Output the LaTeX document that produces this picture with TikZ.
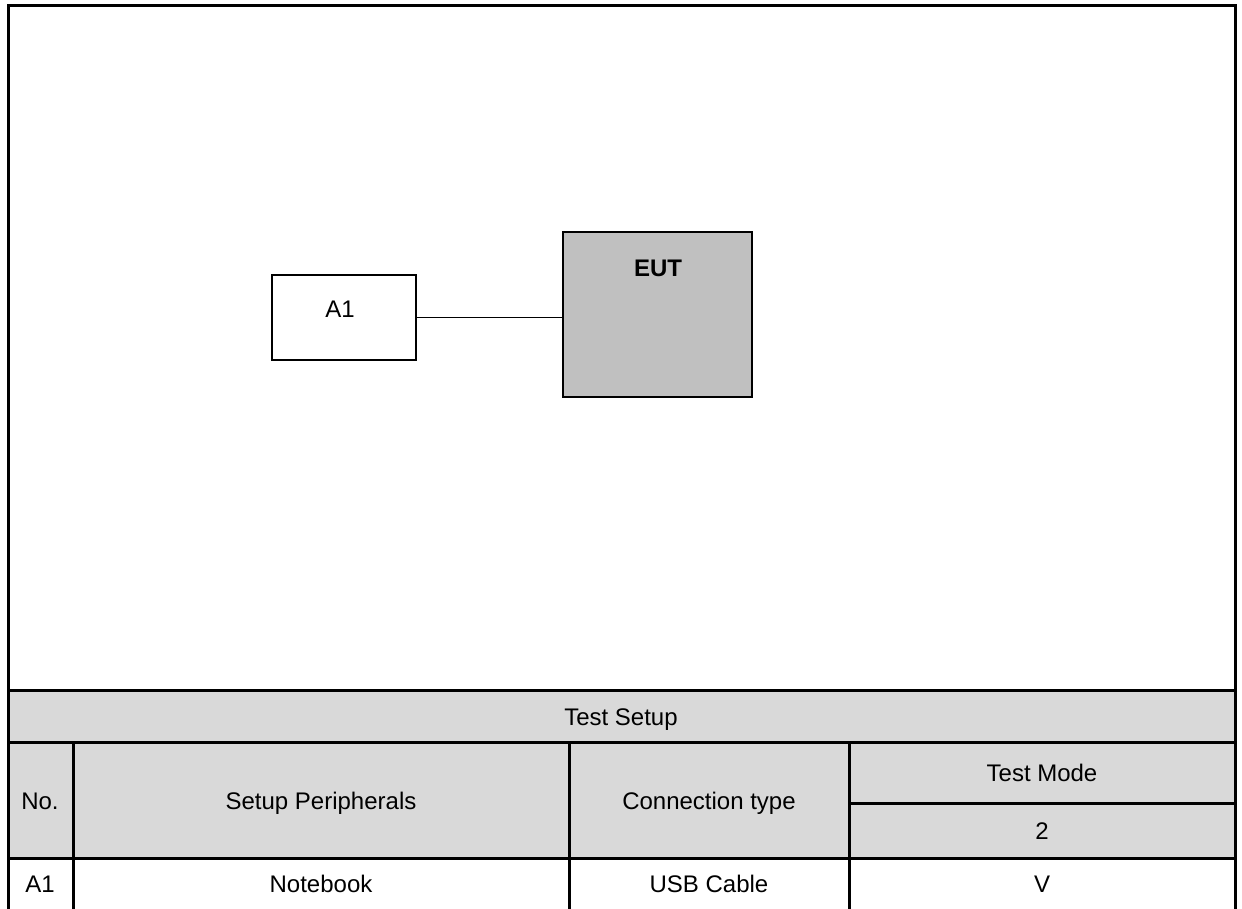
\documentclass[tikz,border=0pt]{standalone}
\usepackage{fontspec}
\setmainfont{Liberation Sans}
\begin{document}
\begin{tikzpicture}[x=1pt,y=-1pt,
  frame/.style={line width=3pt},
  grid/.style={line width=3pt},
  hdrfill/.style={fill=hdrgray},
  txt/.style={font=\fontsize{24}{28}\selectfont, inner sep=0pt, anchor=base},
  devbox/.style={draw, line width=1.2pt, fill=white, inner sep=0pt},
  eutbox/.style={draw, line width=2pt, fill=eutgray, inner sep=0pt},
  cable/.style={line width=1.5pt}]
\definecolor{hdrgray}{HTML}{D9D9D9}
\definecolor{eutgray}{HTML}{C0C0C0}
\useasboundingbox (0,0) rectangle (1242,909);
\fill[white] (0,0) rectangle (1242,909);
% diagram
\node[devbox, minimum width=144pt, minimum height=85pt] (a1box) at (344,317.5) {};
\node[eutbox, minimum width=189pt, minimum height=165pt] (eutbox) at (657.5,314.5) {};
\node[txt] (a1lbl) at (340,317) {A1};
\node[txt, font=\fontsize{24}{28}\selectfont\bfseries] (eutlbl) at (658,277) {EUT};
\draw[cable] (a1box.east) -- (a1box.east -| eutbox.west);
% table header fill
\fill[hdrgray] (8.5,690) rectangle (1235,858);
% frame
\draw[frame] (8.5,909) -- (8.5,6) -- (1235,6) -- (1235,909);
% table lines
\draw[grid] (8.5,690) -- (1235,690);
\draw[grid] (8.5,742) -- (1235,742);
\draw[grid] (849,803) -- (1235,803);
\draw[grid] (8.5,858) -- (1235,858);
\draw[grid] (73,742) -- (73,909);
\draw[grid] (569,742) -- (569,909);
\draw[grid] (849,742) -- (849,909);
% table text
\node[txt] (ts) at (621,725) {Test Setup};
\node[txt] (hno) at (40,809) {No.};
\node[txt] (hsp) at (321,809) {Setup Peripherals};
\node[txt] (hct) at (709,809) {Connection type};
\node[txt] (htm) at (1042,781) {Test Mode};
\node[txt] (htm2) at (1042,839) {2};
\node[txt] (rno) at (40,892) {A1};
\node[txt] (rsp) at (321,892) {Notebook};
\node[txt] (rct) at (709,892) {USB Cable};
\node[txt] (rtm) at (1042,892) {V};
\end{tikzpicture}
\end{document}
